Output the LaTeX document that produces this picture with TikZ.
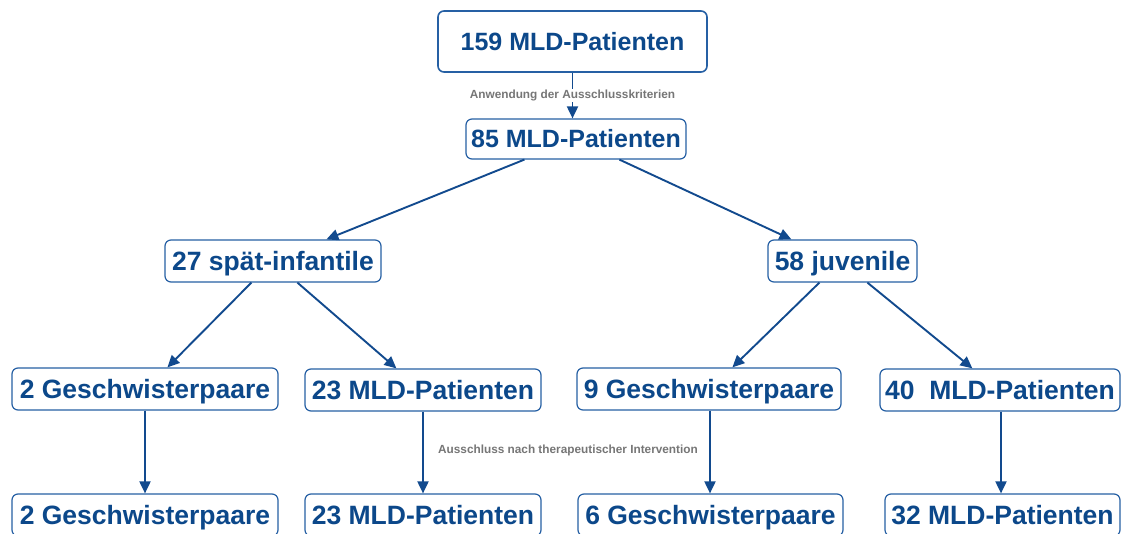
\documentclass[tikz,border=0pt]{standalone}
\usepackage{fontspec}
\setmainfont{Liberation Sans}
\usetikzlibrary{arrows.meta,calc}

\definecolor{boxtext}{RGB}{12,72,138}
\definecolor{boxline}{RGB}{38,96,164}
\definecolor{arrowblue}{RGB}{18,74,142}
\definecolor{labelgray}{RGB}{118,118,118}

\tikzset{
  box/.style={draw=boxline, line width=1.2pt, rounded corners=6pt, fill=white,
    inner sep=0pt, text=boxtext, font=\bfseries\fontsize{26.5}{30}\selectfont,
    text height=19pt, text depth=0pt, minimum height=42pt},
  topbox/.style={box, font=\bfseries\fontsize{25}{30}\selectfont, text height=18pt},
  flow/.style={draw=arrowblue, line width=1.9pt,
    -{Triangle[length=12pt,width=11pt]}},
  note/.style={text=labelgray, font=\bfseries\fontsize{11.8}{13}\selectfont,
    inner sep=1pt}
}

\begin{document}
\begin{tikzpicture}[x=1pt,y=-1pt]
  \fill[white] (0,0) rectangle (1125,534);
  \useasboundingbox (0,0) rectangle (1125,534);

  % first two levels
  \node[topbox, line width=1.6pt, minimum width=269pt, minimum height=61pt] (all) at (572.5,41.5) {159 MLD-Patienten};
  \node[topbox, minimum width=220pt, minimum height=40pt] (incl) at (576,139) {85 MLD-Patienten};
  \node[box, minimum width=216pt] (late) at (273,261) {27 spät-infantile};
  \node[box, minimum width=149pt] (juv) at (842.5,261) {58 juvenile};

  % third level
  \node[box, minimum width=266pt] (lsib) at (145,389) {2 Geschwisterpaare};
  \node[box, minimum width=236pt] (lpat) at (423,390) {23 MLD-Patienten};
  \node[box, minimum width=264pt] (jsib) at (709,389) {9 Geschwisterpaare};
  \node[box, minimum width=240pt] (jpat) at (1000,390) {40\ \ MLD-Patienten};

  % fourth level
  \node[box, minimum width=266pt] (lsibf) at (145,515) {2 Geschwisterpaare};
  \node[box, minimum width=236pt] (lpatf) at (423,515) {23 MLD-Patienten};
  \node[box, minimum width=265pt] (jsibf) at (710.5,515) {6 Geschwisterpaare};
  \node[box, minimum width=235pt] (jpatf) at (1002.5,515) {32 MLD-Patienten};

  % connectors
  \draw[flow] (all.south) -- (all.south |- incl.north)
    node[note, fill=white, pos=0.49] (crit) {Anwendung der Ausschlusskriterien};

  \draw[flow] ($(incl.south west)+(59,0)$) -- ($(late.north west)+(162,0)$);
  \draw[flow] ($(incl.south west)+(154,0)$) -- ($(juv.north west)+(24,0)$);

  \draw[flow] ($(late.south west)+(87,0)$) -- ($(lsib.north west)+(156,0)$);
  \draw[flow] ($(late.south west)+(133,0)$) -- ($(lpat.north west)+(92,0)$);
  \draw[flow] ($(juv.south west)+(52,0)$) -- ($(jsib.north west)+(156,0)$);
  \draw[flow] ($(juv.south west)+(100,0)$) -- ($(jpat.north west)+(93,0)$);

  \draw[flow] (lsib.south) -- (lsib.south |- lsibf.north);
  \draw[flow] (lpat.south) -- (lpat.south |- lpatf.north);
  \draw[flow] ($(jsib.south)+(1,0)$) -- ($(jsib.south |- jsibf.north)+(1,0)$);
  \draw[flow] ($(jpat.south)+(1,0)$) -- ($(jpat.south |- jpatf.north)+(1,0)$);

  \node[note] (excl) at (568,450) {Ausschluss nach therapeutischer Intervention};
\end{tikzpicture}
\end{document}
